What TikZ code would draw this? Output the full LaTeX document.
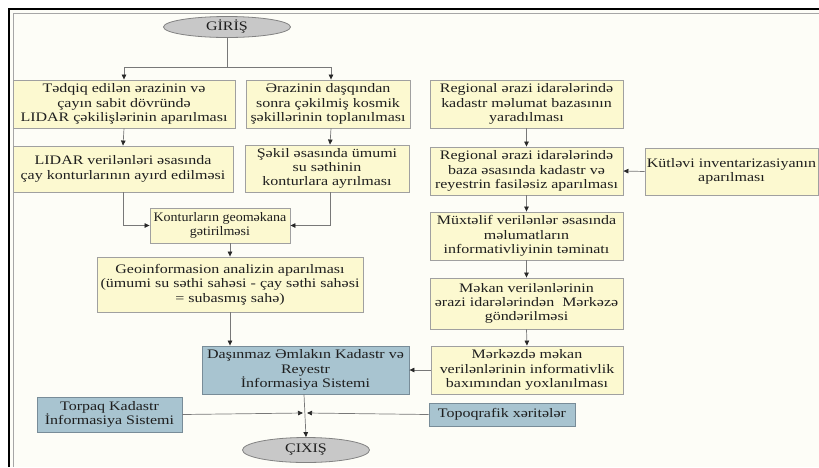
\documentclass[tikz,border=0pt]{standalone}
\usepackage{fontspec}
\setmainfont{Liberation Serif}
\newfontfamily\dfont[FakeStretch=1.23]{Liberation Serif}
\newfontfamily\dfontn[FakeStretch=1.08]{Liberation Serif}
\usetikzlibrary{arrows.meta,shapes.geometric}
\definecolor{boxy}{RGB}{252,249,208}
\definecolor{boxline}{RGB}{160,160,160}
\definecolor{bluebox}{RGB}{168,196,208}
\definecolor{blueline}{RGB}{120,140,152}
\definecolor{ellfill}{RGB}{200,200,200}
\definecolor{ellline}{RGB}{130,130,130}
\definecolor{linec}{RGB}{120,120,120}
\definecolor{tipc}{RGB}{40,40,40}
\definecolor{textc}{RGB}{30,30,30}
\definecolor{bgc}{RGB}{253,253,247}
\begin{document}
\begin{tikzpicture}[x=1pt,y=-1pt,
  base/.style={align=center, inner sep=0pt, text=textc, font=\dfont\fontsize{13}{14.3}\selectfont},
  ybox/.style={base, draw=boxline, fill=boxy, line width=0.9pt},
  bbox/.style={base, draw=blueline, fill=bluebox, line width=0.9pt},
  term/.style={base, ellipse, draw=ellline, fill=ellfill, line width=0.8pt},
  narrow/.style={font=\dfontn\fontsize{13}{14.3}\selectfont},
  conn/.style={draw=linec, line width=0.7pt, -{Triangle[length=5pt,width=4.5pt,color=tipc]}},
  plain/.style={draw=linec, line width=0.7pt}]
\useasboundingbox (0,0) rectangle (819,467);
\fill[white] (0,0) rectangle (819,467);
\fill[bgc] (9,9) rectangle (819,467);
\draw[black, line width=2.4pt] (9,467) -- (9,9) -- (819,9);
\draw[gray!70, line width=0.8pt] (13.5,467) -- (13.5,13.5) -- (819,13.5);

\node[term, minimum width=127pt, minimum height=21pt] (g) at (227,27) {GİRİŞ};
\node[term, minimum width=127pt, minimum height=25pt] (c) at (306,450) {ÇIXIŞ};

\node[ybox, minimum width=222pt, minimum height=48pt] (b1) at (124,104) {Tədqiq edilən ərazinin və\\çayın sabit dövründə\\LIDAR çəkilişlərinin aparılması};
\node[ybox, minimum width=164pt, minimum height=48pt] (b2) at (328,104) {Ərazinin daşqından\\sonra çəkilmiş kosmik\\şəkillərinin toplanılması};
\node[ybox, minimum width=193pt, minimum height=48pt] (b3) at (526.5,104) {Regional ərazi idarələrində\\kadastr məlumat bazasının\\yaradılması};
\node[ybox, minimum width=220pt, minimum height=46pt] (b4) at (123,169) {LIDAR verilənləri əsasında\\çay konturlarının ayırd edilməsi};
\node[ybox, minimum width=164pt, minimum height=47pt] (b5) at (327,168.5) {Şəkil əsasında ümumi\\su səthinin\\konturlara ayrılması};
\node[ybox, minimum width=193pt, minimum height=48pt] (b6) at (526.5,171) {Regional ərazi idarələrində\\baza əsasında kadastr və\\reyestrin fasiləsiz aparılması};
\node[ybox, minimum width=173pt, minimum height=47pt] (b7) at (731.5,171.5) {Kütləvi inventarizasiyanın\\aparılması};
\node[ybox, narrow, minimum width=140pt, minimum height=35pt] (b8) at (220,225.5) {Konturların geoməkana\\gətirilməsi};
\node[ybox, minimum width=266pt, minimum height=55pt] (b9) at (230,284.5) {Geoinformasion analizin aparılması\\(ümumi su səthi sahəsi - çay səthi sahəsi\\= subasmış sahə)};
\node[ybox, minimum width=193pt, minimum height=48pt] (b10) at (526.5,236) {Müxtəlif verilənlər əsasında\\məlumatların\\informativliyinin təminatı};
\node[ybox, minimum width=193pt, minimum height=51pt] (b11) at (526.5,303.5) {Məkan verilənlərinin\\ərazi idarələrindən~ Mərkəzə\\göndərilməsi};
\node[ybox, minimum width=192pt, minimum height=48pt] (b12) at (527,370) {Mərkəzdə məkan\\verilənlərinin informativlik\\baxımından yoxlanılması};
\node[bbox, minimum width=207pt, minimum height=48pt] (b13) at (305.5,370) {Daşınmaz Əmlakın Kadastr və\\Reyestr\\İnformasiya Sistemi};
\node[bbox, minimum width=145pt, minimum height=35pt] (b14) at (109.5,414.5) {Torpaq Kadastr\\İnformasiya Sistemi};
\node[bbox, minimum width=146pt, minimum height=23pt] (b15) at (502,414.5) {Topoqrafik xəritələr};

\coordinate (split) at (227,67);
\coordinate (jl) at (303,413);
\coordinate (jr) at (307,413);

\draw[plain] (g.south) -- (split);
\draw[conn] (split) -| (b1.north);
\draw[conn] (split) -| ([xshift=3pt]b2.north);
\draw[conn] (b1.south) -- (b4.north);
\draw[conn] ([xshift=3pt]b2.south) -- ([xshift=3pt]b5.north);
\draw[conn] (b3.south) -- (b6.north);
\draw[conn] (b7.west) -- (b6.east);
\draw[conn] (b4.south) |- (b8.west);
\draw[conn] ([xshift=3pt]b5.south) |- (b8.east);
\draw[conn] ([xshift=10pt]b8.south) -- ([xshift=0pt]b9.north);
\draw[conn] (b9.south) -- (b13.north -| b9.south);
\draw[conn] (b6.south) -- (b10.north);
\draw[conn] (b10.south) -- (b11.north);
\draw[conn] (b11.south) -- (b12.north);
\draw[conn] (b12.west) -- (b13.east);
\draw[conn] ([xshift=-1.5pt]b13.south) -- (c.north);
\draw[conn] (b14.east) -- (jl);
\draw[conn] (b15.west) -- (jr);
\end{tikzpicture}
\end{document}
